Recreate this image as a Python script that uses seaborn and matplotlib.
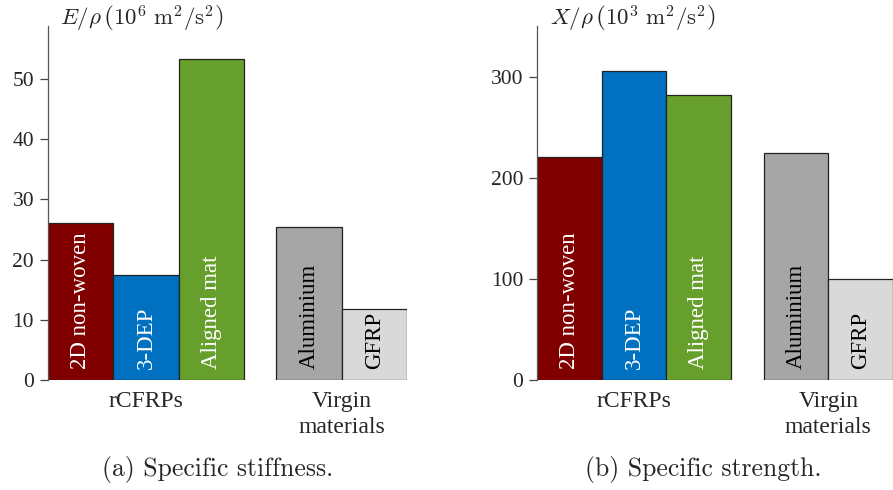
import matplotlib
matplotlib.use("Agg")
import matplotlib.pyplot as plt
import matplotlib.transforms as mtransforms
import seaborn as sns
import pandas as pd

sns.set_theme(style="white")
plt.rcParams["font.family"] = ["Liberation Serif", "DejaVu Serif"]
plt.rcParams["mathtext.fontset"] = "cm"

materials = ["2D non-woven", "3-DEP", "Aligned mat", "Aluminium", "GFRP"]
positions = [0, 1, 2, 3.5, 4.5]
stiffness = [26.1, 17.4, 53.3, 25.4, 11.8]
strength = [221, 306, 282, 225, 100]
colours = ["#800000", "#0070C0", "#669F2C", "#A6A6A6", "#D9D9D9"]
text_colours = ["white", "white", "white", "black", "black"]

groups = ["rCFRPs", "Virgin\nmaterials"]
group_centres = [1, 4]

titles = [r"$E/\rho\,\left(10^6\ \mathrm{m}^2/\mathrm{s}^2\right)$",
          r"$X/\rho\,\left(10^3\ \mathrm{m}^2/\mathrm{s}^2\right)$"]
captions = ["(a) Specific stiffness.", "(b) Specific strength."]
yticks = [[0, 10, 20, 30, 40, 50], [0, 100, 200, 300]]
ytops = [58.8, 350.5]


def draw_panel(ax, values, title, ticks, ytop):
    df = pd.DataFrame({"pos": positions, "value": values, "material": materials})
    sns.barplot(data=df, x="pos", y="value", hue="material", native_scale=True,
                dodge=False, width=1.0, palette=colours, hue_order=materials,
                saturation=1, edgecolor="#222222", linewidth=0.9, legend=False, ax=ax)
    for p, name, tc in zip(positions, materials, text_colours):
        ax.annotate(name, (p, 0), xytext=(0, 8), textcoords="offset points",
                    rotation=90, ha="center", va="bottom", color=tc, fontsize=16.5)
    trans = mtransforms.blended_transform_factory(ax.transData, ax.transAxes)
    for c, g in zip(group_centres, groups):
        ax.text(c, -0.03, g, transform=trans, ha="center", va="top",
                fontsize=17, linespacing=1.35)
    ax.set_xlim(-0.5, 5.0)
    ax.set_ylim(0, ytop)
    ax.set_yticks(ticks)
    ax.set_xticks([])
    ax.set_xlabel("")
    ax.set_ylabel("")
    ax.tick_params(axis="y", direction="out", length=6, width=0.9,
                   color="#444444", labelsize=15.5, left=True, pad=4)
    for s in ["top", "right", "bottom"]:
        ax.spines[s].set_visible(False)
    ax.spines["left"].set_color("#555555")
    ax.spines["left"].set_linewidth(0.9)
    ax.annotate(title, (0, 1), xycoords="axes fraction", xytext=(9, 5),
                textcoords="offset points", ha="left", va="center", fontsize=16.5)


fig = plt.figure(figsize=(8.93, 4.9), dpi=100)
ax1 = fig.add_axes([48 / 893, 110 / 490, 359 / 893, 354 / 490])
ax2 = fig.add_axes([537 / 893, 110 / 490, 356 / 893, 354 / 490])

draw_panel(ax1, stiffness, titles[0], yticks[0], ytops[0])
draw_panel(ax2, strength, titles[1], yticks[1], ytops[1])

fig.text(218 / 893, 21 / 490, captions[0], ha="center", va="center",
         fontsize=18.5, family=["cmr10", "DejaVu Serif"])
fig.text(703 / 893, 21 / 490, captions[1], ha="center", va="center",
         fontsize=18.5, family=["cmr10", "DejaVu Serif"])

fig.savefig("out.png", dpi=100)
